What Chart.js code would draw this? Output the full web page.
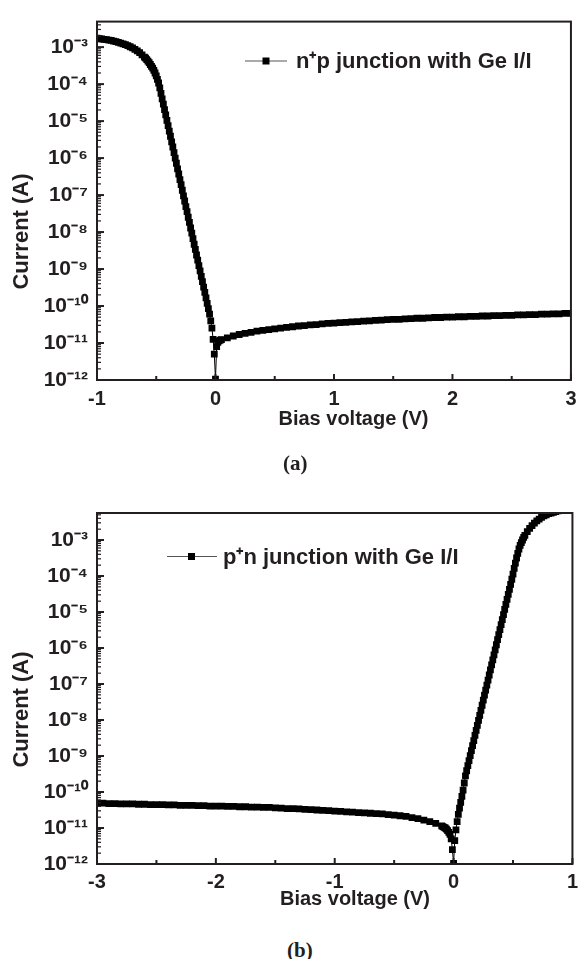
<!DOCTYPE html>
<html><head><meta charset="utf-8">
<script src="https://cdn.jsdelivr.net/npm/chart.js@4.4.1/dist/chart.umd.min.js"></script>
<style>
html,body{margin:0;padding:0;background:#fff;}
#wrap{position:relative;width:584px;height:959px;overflow:hidden;background:#fff;}
canvas{position:absolute;left:0;}
.cap{position:absolute;font-family:"Liberation Serif","Times New Roman",serif;font-weight:bold;font-size:21px;line-height:24px;color:#231f20;}
</style></head><body>
<div id="wrap">
<canvas id="ca" width="584" height="440" style="top:0px;width:584px;height:440px"></canvas>
<canvas id="cb" width="584" height="440" style="top:470px;width:584px;height:440px"></canvas>
<div class="cap" style="left:283px;top:451px">(a)</div>
<div class="cap" style="left:287px;top:938px">(b)</div>
</div>
<script>
// ---------- data (a): n+p junction ----------
const voltageA = [
-1.00,-0.98,-0.96,-0.94,-0.92,-0.90,-0.88,-0.86,-0.84,-0.82,-0.80,-0.78,-0.76,-0.74,-0.72,-0.70,-0.68,-0.66,-0.64,-0.62,
-0.60,-0.59,-0.58,-0.57,-0.56,-0.55,-0.54,-0.53,-0.52,-0.51,-0.50,-0.49,-0.48,-0.47,-0.46,-0.45,-0.44,-0.43,-0.42,-0.41,
-0.40,-0.39,-0.38,-0.37,-0.36,-0.35,-0.34,-0.33,-0.32,-0.31,-0.30,-0.29,-0.28,-0.27,-0.26,-0.25,-0.24,-0.23,-0.22,-0.21,
-0.20,-0.19,-0.18,-0.17,-0.16,-0.15,-0.14,-0.13,-0.12,-0.11,-0.10,-0.09,-0.08,-0.07,-0.06,-0.05,-0.04,-0.03,-0.02,-0.01,
0.00,0.01,0.02,0.03,0.04,
0.05,0.10,0.15,0.20,0.25,0.30,0.35,0.40,0.45,0.50,0.55,0.60,0.65,0.70,0.75,0.80,0.85,0.90,0.95,1.00,
1.05,1.10,1.15,1.20,1.25,1.30,1.35,1.40,1.45,1.50,1.55,1.60,1.65,1.70,1.75,1.80,1.85,1.90,1.95,2.00,
2.05,2.10,2.15,2.20,2.25,2.30,2.35,2.40,2.45,2.50,2.55,2.60,2.65,2.70,2.75,2.80,2.85,2.90,2.95,3.00
];
// log10 of current (A)
const log10CurrentA = [
-2.76,-2.77,-2.78,-2.79,-2.80,-2.81,-2.82,-2.84,-2.85,-2.87,-2.89,-2.91,-2.93,-2.96,-2.99,-3.02,-3.06,-3.10,-3.15,-3.21,
-3.27,-3.30,-3.34,-3.38,-3.42,-3.47,-3.52,-3.57,-3.63,-3.70,-3.78,-3.87,-3.97,-4.10,-4.25,-4.40,-4.54,-4.69,-4.83,-4.98,
-5.12,-5.27,-5.41,-5.56,-5.70,-5.85,-6.00,-6.14,-6.29,-6.43,-6.58,-6.72,-6.87,-7.02,-7.16,-7.31,-7.45,-7.60,-7.74,-7.89,
-8.03,-8.18,-8.33,-8.47,-8.62,-8.76,-8.91,-9.05,-9.20,-9.34,-9.49,-9.63,-9.78,-9.93,-10.07,-10.22,-10.40,-10.60,-10.90,-11.30,
-11.98,-11.10,-10.98,-10.94,-10.92,
-10.91,-10.86,-10.81,-10.77,-10.74,-10.71,-10.68,-10.66,-10.64,-10.62,-10.60,-10.58,-10.56,-10.54,-10.53,-10.51,-10.50,-10.48,-10.47,-10.46,
-10.45,-10.44,-10.43,-10.42,-10.41,-10.40,-10.39,-10.38,-10.37,-10.36,-10.36,-10.35,-10.34,-10.33,-10.33,-10.32,-10.31,-10.31,-10.30,-10.30,
-10.29,-10.29,-10.28,-10.28,-10.27,-10.27,-10.26,-10.26,-10.25,-10.25,-10.24,-10.24,-10.23,-10.23,-10.22,-10.22,-10.21,-10.21,-10.20,-10.20
];

// ---------- data (b): p+n junction ----------
const voltageB = [
-3.00,-2.95,-2.90,-2.85,-2.80,-2.75,-2.70,-2.65,-2.60,-2.55,
-2.50,-2.45,-2.40,-2.35,-2.30,-2.25,-2.20,-2.15,-2.10,-2.05,
-2.00,-1.95,-1.90,-1.85,-1.80,-1.75,-1.70,-1.65,-1.60,-1.55,
-1.50,-1.45,-1.40,-1.35,-1.30,-1.25,-1.20,-1.15,-1.10,-1.05,
-1.00,-0.95,-0.90,-0.85,-0.80,-0.75,-0.70,-0.65,-0.60,-0.55,
-0.50,-0.45,-0.40,-0.35,-0.30,-0.25,-0.20,-0.15,-0.10,
-0.09,-0.08,-0.07,-0.06,-0.05,-0.04,-0.03,-0.02,-0.01,0.00,
0.01,0.02,0.03,0.04,0.05,0.06,0.07,0.08,0.09,0.10,
0.11,0.12,0.13,0.14,0.15,0.16,0.17,0.18,0.19,0.20,
0.21,0.22,0.23,0.24,0.25,0.26,0.27,0.28,0.29,0.30,
0.31,0.32,0.33,0.34,0.35,0.36,0.37,0.38,0.39,0.40,
0.41,0.42,0.43,0.44,0.45,0.46,0.47,0.48,0.49,0.50,
0.51,0.52,0.53,0.54,0.55,0.56,0.57,0.58,0.59,0.60,
0.62,0.64,0.66,0.68,0.70,0.72,0.74,0.76,0.78,0.80,
0.82,0.84,0.86,0.88,0.90,0.92,0.94,0.96,0.98,1.00
];
const log10CurrentB = [
-10.31,-10.31,-10.32,-10.32,-10.33,-10.33,-10.33,-10.34,-10.34,-10.35,
-10.35,-10.35,-10.36,-10.36,-10.37,-10.37,-10.37,-10.38,-10.38,-10.39,
-10.39,-10.39,-10.40,-10.40,-10.41,-10.41,-10.42,-10.42,-10.43,-10.43,
-10.44,-10.45,-10.46,-10.46,-10.47,-10.48,-10.49,-10.50,-10.51,-10.52,
-10.53,-10.54,-10.55,-10.56,-10.57,-10.58,-10.59,-10.60,-10.61,-10.63,
-10.64,-10.66,-10.68,-10.71,-10.74,-10.78,-10.82,-10.87,-10.94,
-10.96,-10.98,-11.00,-11.03,-11.07,-11.12,-11.18,-11.30,-11.60,-11.98,
-11.35,-11.05,-10.82,-10.62,-10.45,-10.29,-10.12,-9.95,-9.75,-9.55,
-9.41,-9.27,-9.13,-8.99,-8.85,-8.71,-8.57,-8.43,-8.29,-8.15,
-8.01,-7.87,-7.73,-7.59,-7.45,-7.31,-7.17,-7.03,-6.89,-6.75,
-6.61,-6.47,-6.33,-6.19,-6.05,-5.91,-5.77,-5.63,-5.49,-5.35,
-5.21,-5.07,-4.93,-4.79,-4.65,-4.51,-4.37,-4.23,-4.09,-3.95,
-3.79,-3.64,-3.50,-3.37,-3.25,-3.15,-3.07,-3.00,-2.93,-2.87,
-2.77,-2.68,-2.60,-2.53,-2.47,-2.42,-2.37,-2.33,-2.30,-2.27,
-2.25,-2.23,-2.21,-2.19,-2.17,-2.16,-2.14,-2.13,-2.11,-2.10
];

// ---------- axes / ticks / labels ----------
const yDecadeExponents = [-12,-11,-10,-9,-8,-7,-6,-5,-4,-3];
const yMinorMultipliers = [2,3,4,5,6,7,8,9];
const xTicksA = [-1,-0.5,0,0.5,1,1.5,2,2.5,3];
const xTicksB = [-3,-2.5,-2,-1.5,-1,-0.5,0,0.5,1];
const legendTextA = 'n\u207Ap junction with Ge I/I';
const legendTextB = 'p\u207An junction with Ge I/I';
const xTitle = 'Bias voltage (V)';
const yTitle = 'Current (A)';

const INK = '#231f20';
const SANS = "'Liberation Sans', Arial, Helvetica, sans-serif";
const SUP = {'-':'\u207B','0':'\u2070','1':'\u00B9','2':'\u00B2','3':'\u00B3','4':'\u2074','5':'\u2075','6':'\u2076','7':'\u2077','8':'\u2078','9':'\u2079'};
function powerLabel(v){
  const e = Math.round(Math.log10(v));
  return '10' + String(e).split('').map(c => SUP[c]).join('');
}
function logTicks(maxVal){
  const t = [];
  yDecadeExponents.forEach(e => {
    t.push({value: Math.pow(10, e), major: true});
    yMinorMultipliers.forEach(m => {
      const v = m * Math.pow(10, e);
      if (v <= maxVal) t.push({value: v, major: false});
    });
  });
  return t.sort((a, b) => a.value - b.value);
}

function decor(spec){
  return {
    id: 'decor',
    afterDatasetsDraw(chart){
      const {ctx, chartArea: a, scales: {x, y}} = chart;
      ctx.save();
      ctx.strokeStyle = INK;
      y.ticks.forEach(t => {
        const py = y.getPixelForValue(t.value);
        if (py < a.top - 0.5 || py > a.bottom + 0.5) return;
        ctx.lineWidth = t.major ? 2 : 1.2;
        const len = t.major ? 7 : 4;
        ctx.beginPath(); ctx.moveTo(a.left, py); ctx.lineTo(a.left + len, py); ctx.stroke();
      });
      x.ticks.forEach(t => {
        const px = x.getPixelForValue(t.value);
        const major = Number.isInteger(t.value);
        ctx.lineWidth = 2;
        const len = major ? 6 : 4;
        ctx.beginPath(); ctx.moveTo(px, a.bottom); ctx.lineTo(px, a.bottom - len); ctx.stroke();
      });
      ctx.lineWidth = 2;
      ctx.strokeRect(a.left, a.top, a.right - a.left, a.bottom - a.top);
      ctx.restore();
    },
    afterDraw(chart){
      const ctx = chart.ctx;
      ctx.save();
      // legend
      ctx.strokeStyle = '#555';
      ctx.lineWidth = 1;
      ctx.beginPath(); ctx.moveTo(spec.lineFrom, spec.y); ctx.lineTo(spec.lineTo, spec.y); ctx.stroke();
      ctx.fillStyle = '#000';
      ctx.fillRect(spec.markerX - 3.5, spec.y - 3.5, 7, 7);
      ctx.fillStyle = INK;
      ctx.font = 'bold 22px ' + SANS;
      ctx.textBaseline = 'middle';
      ctx.textAlign = 'left';
      ctx.fillText(spec.text, spec.textX, spec.y + 1);
      // axis titles
      ctx.textAlign = 'center';
      ctx.font = 'bold 20px ' + SANS;
      ctx.fillText(xTitle, spec.xTitleX, spec.xTitleY);
      ctx.translate(spec.yTitleX, spec.yTitleY);
      ctx.rotate(-Math.PI / 2);
      ctx.font = 'bold 22px ' + SANS;
      ctx.fillText(yTitle, 0, 0);
      ctx.restore();
    }
  };
}

function makeChart(id, volts, logs, xMin, xMax, xTicks, yMax, pad, xHeight, xTickPad, spec){
  const pts = volts.map((v, i) => ({x: v, y: Math.pow(10, logs[i])}));
  return new Chart(document.getElementById(id), {
    type: 'line',
    data: {datasets: [{
      data: pts,
      borderColor: '#000', borderWidth: 1, tension: 0,
      pointStyle: 'rect', pointRadius: 4.8, pointBorderWidth: 0,
      pointBackgroundColor: '#000', fill: false
    }]},
    options: {
      responsive: false, animation: false, devicePixelRatio: 1, events: [],
      layout: {padding: pad},
      plugins: {legend: {display: false}, tooltip: {enabled: false}, title: {display: false}},
      scales: {
        x: {
          type: 'linear', min: xMin, max: xMax,
          afterBuildTicks: s => { s.ticks = xTicks.map(v => ({value: v})); },
          afterFit: s => { s.height = xHeight; },
          grid: {display: false, drawTicks: false}, border: {display: false},
          ticks: {autoSkip: false, maxRotation: 0, padding: xTickPad, color: INK,
            font: {family: SANS, size: 20, weight: 'bold'},
            callback: v => Number.isInteger(v) ? String(v) : ''},
          title: {display: false, text: xTitle}
        },
        y: {
          type: 'logarithmic', min: 1e-12, max: yMax,
          afterBuildTicks: s => { s.ticks = logTicks(yMax); },
          afterFit: s => { s.width = 97; },
          grid: {display: false, drawTicks: false}, border: {display: false},
          ticks: {autoSkip: false, padding: 9, color: INK,
            font: {family: SANS, size: 21, weight: 'bold'},
            callback: (v, i, ticks) => ticks[i] && ticks[i].major ? powerLabel(v) : ''},
          title: {display: false, text: yTitle}
        }
      }
    },
    plugins: [decor(spec)]
  });
}

makeChart('ca', voltageA, log10CurrentA, -1, 3, xTicksA, Math.pow(10, -2.31),
  {left: 0, right: 6, top: 15, bottom: 0}, 60, 7.5,
  {lineFrom: 245, lineTo: 287, markerX: 266, textX: 296, y: 61, text: legendTextA,
   xTitleX: 353.5, xTitleY: 419, yTitleX: 21.5, yTitleY: 231.5});
makeChart('cb', voltageB, log10CurrentB, -3, 1, xTicksB, Math.pow(10, -2.25),
  {left: 0, right: 2, top: 43, bottom: 0}, 46, 6,
  {lineFrom: 167, lineTo: 217, markerX: 191.5, textX: 223, y: 86.5, text: legendTextB,
   xTitleX: 355, xTitleY: 429, yTitleX: 21.5, yTitleY: 239.5});
</script>
</body></html>
